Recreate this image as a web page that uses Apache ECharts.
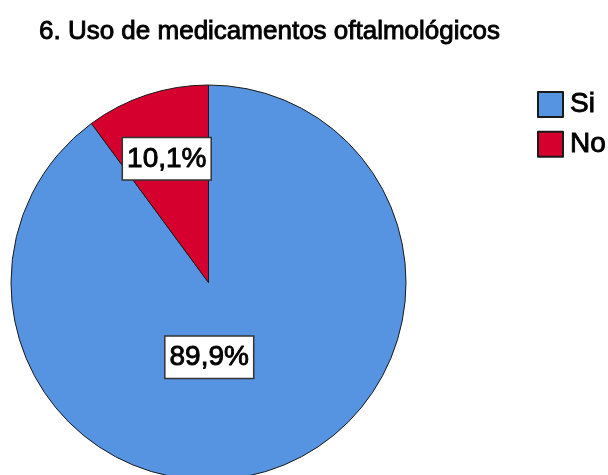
<!DOCTYPE html>
<html>
<head>
<meta charset="utf-8">
<script src="https://cdn.jsdelivr.net/npm/echarts@6/dist/echarts.min.js"></script>
<style>
    html, body { margin: 0; padding: 0; background: #fff; }
    #chart { width: 608px; height: 475px; }
</style>
</head>
<body>
<div id="chart"></div>
<script type="text/javascript">
    // datos del grafico
    const titleText = '6. Uso de medicamentos oftalmológicos';
    const categories = ['Si', 'No'];
    const percents = [89.9, 10.1];
    const sliceColors = ['#5694e2', '#d6002f'];

    var chartDom = document.getElementById('chart');
    var myChart = echarts.init(chartDom, null, { renderer: 'canvas' });

    // desplazamiento de las etiquetas respecto a la posicion 'inside'
    var labelShift = [[-31, -22], [-10, -27]];

    var pieData = [];
    for (let i = 0; i < categories.length; i++) {
        pieData.push({
            name: categories[i],
            value: percents[i],
            itemStyle: { color: sliceColors[i] }
        });
    }

    // texto un poco mas grueso, como en el original
    var thick = { textBorderColor: '#000', textBorderWidth: 0.9 };

    var option = {
        animation: false,
        title: {
            text: titleText,
            left: 34,
            top: 14,
            textStyle: Object.assign({
                fontFamily: 'Liberation Sans',
                fontSize: 26,
                fontWeight: 'normal',
                color: '#000'
            }, thick)
        },
        legend: {
            orient: 'vertical',
            left: 532,
            top: 85,
            itemWidth: 25,
            itemHeight: 25,
            itemGap: 11,
            icon: 'rect',
            data: categories,
            textStyle: Object.assign({
                fontFamily: 'Liberation Sans',
                fontSize: 28,
                color: '#000',
                padding: [0, 0, 0, 2]
            }, thick)
        },
        series: [
            {
                type: 'pie',
                center: [208.5, 282.5],
                radius: 197.5,
                startAngle: 90,
                clockwise: true,
                itemStyle: {
                    borderColor: '#1a1a1a',
                    borderWidth: 1
                },
                label: Object.assign({
                    show: true,
                    position: 'inside',
                    formatter: function (p) {
                        return p.value.toFixed(1).replace('.', ',') + '%';
                    },
                    fontFamily: 'Liberation Sans',
                    fontSize: 28,
                    color: '#000',
                    backgroundColor: '#fff',
                    borderColor: '#333',
                    borderWidth: 1.5,
                    padding: [8, 4, 5, 4]
                }, thick),
                labelLayout: function (params) {
                    var s = labelShift[params.dataIndex];
                    return { dx: s[0], dy: s[1] };
                },
                emphasis: { disabled: true },
                data: pieData
            }
        ]
    };

    myChart.setOption(option);
    window.addEventListener('resize', myChart.resize);
</script>
</body>
</html>
